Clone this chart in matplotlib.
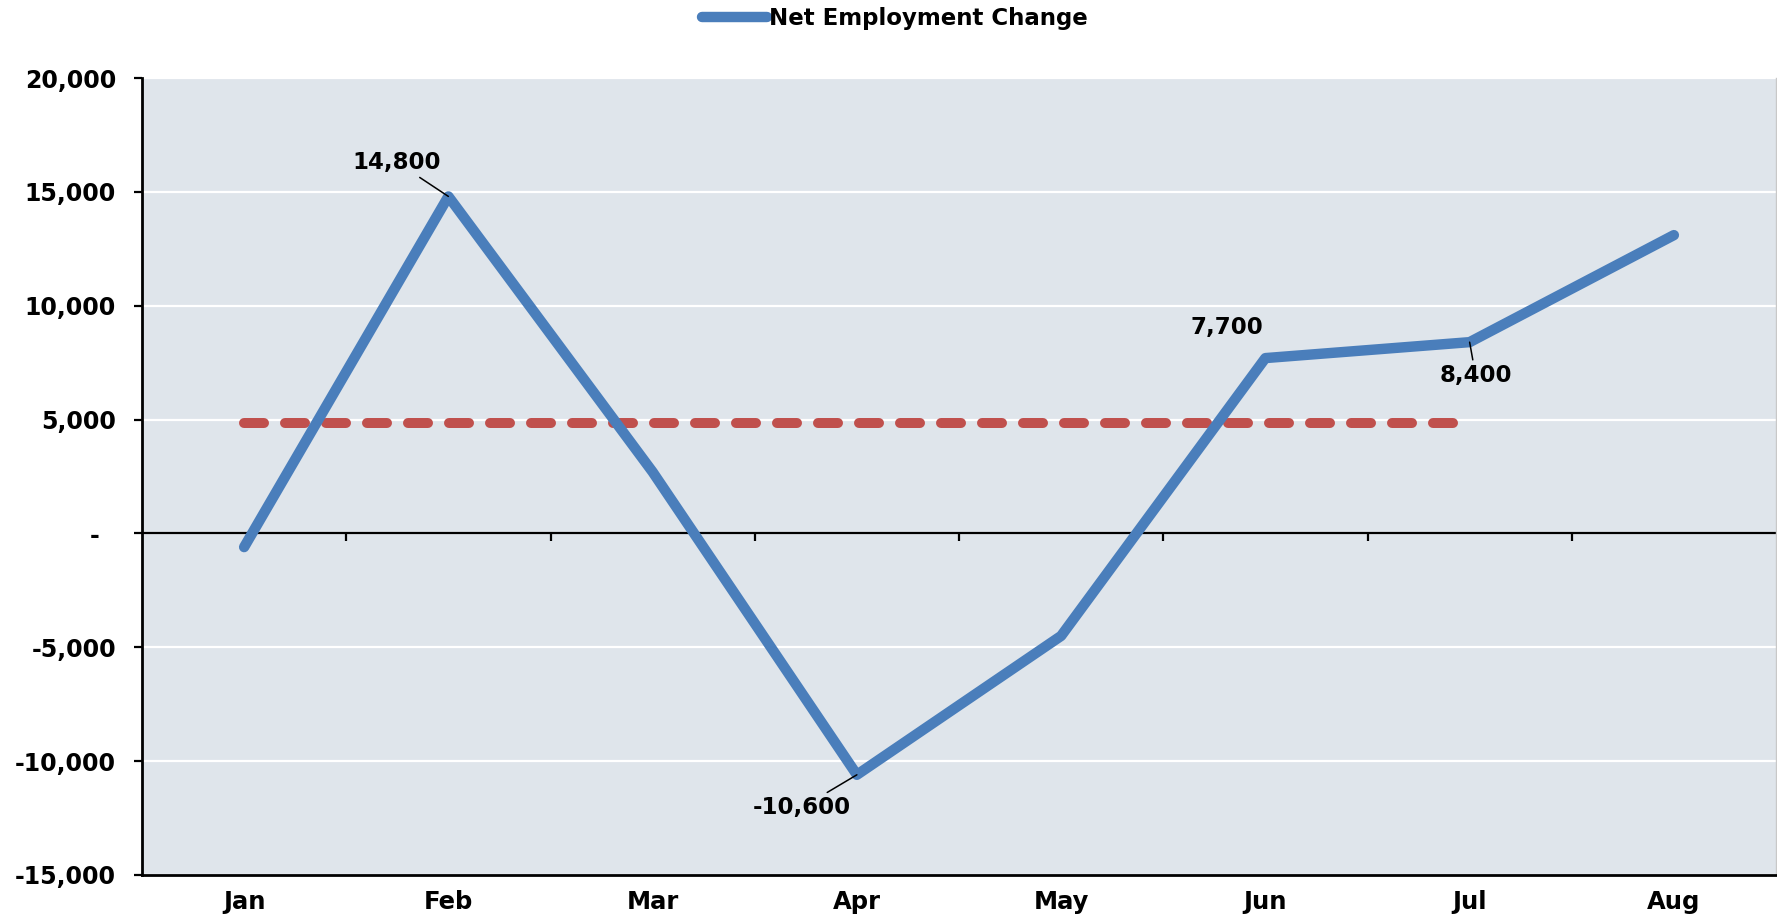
import matplotlib
matplotlib.use("Agg")
import matplotlib.pyplot as plt
from matplotlib.ticker import FuncFormatter
import numpy as np

# ---- data ----
months = ["Jan", "Feb", "Mar", "Apr", "May", "Jun", "Jul", "Aug"]
net_change = [-600, 14800, 2700, -10600, -4500, 7700, 8400, 13100]
series_name = "Net Employment Change"
benchmark = [4850, 4850, 4850, 4850, 4850, 4850, 4850]  # Jan..Jul
y_ticks = [-15000, -10000, -5000, 0, 5000, 10000, 15000, 20000]
labeled = {  # index: (dx pt, dy pt, leader)
    1: (-37, 24.5, True),
    3: (-39.5, -23.5, True),
    5: (-27.4, 22.3, False),
    6: (4.3, -24.0, True),
}

BLUE = "#4A7EBB"
RED = "#C0504D"
BG = "#DFE5EB"

W, H = 1777, 919
fig = plt.figure(figsize=(W / 100, H / 100), dpi=100)
ax = fig.add_axes([142 / W, 1 - 875 / H, (1776 - 142) / W, (875 - 78) / H])
ax.set_facecolor(BG)

x = np.arange(len(months))
ax.set_xlim(-0.5, len(months) - 0.5)
ax.set_ylim(y_ticks[0], y_ticks[-1])

# gridlines
ax.set_yticks(y_ticks)
ax.grid(axis="y", color="white", lw=1.6, zorder=1)
ax.set_axisbelow(True)

# zero axis line with category boundary ticks
ax.axhline(0, color="black", lw=1.6, zorder=2)
boundaries = np.arange(len(months) - 1) + 0.5
ax.plot(boundaries, np.zeros_like(boundaries), ls="", marker=3, ms=5.8,
        mew=1.6, color="black", zorder=2)

# benchmark dashed line
ax.plot(x[:len(benchmark)], benchmark, color=RED, lw=7.2,
        dashes=(2.0, 2.1), dash_capstyle="round", zorder=3)

# main series
line, = ax.plot(x, net_change, color=BLUE, lw=7.5, solid_capstyle="round",
                solid_joinstyle="round", zorder=4, label=series_name)

# data labels
for i, (dx, dy, leader) in labeled.items():
    kw = {}
    if leader:
        kw["arrowprops"] = dict(arrowstyle="-", color="black", lw=1.1,
                                shrinkA=1, shrinkB=0)
    ax.annotate(f"{net_change[i]:,}", xy=(x[i], net_change[i]),
                xytext=(dx, dy), textcoords="offset points",
                ha="center", va="center", fontsize=16.5, fontweight="bold",
                family="DejaVu Sans", color="black", zorder=5, **kw)

# spines
ax.spines["top"].set_visible(False)
ax.spines["right"].set_color("#C8C8C8")
ax.spines["right"].set_linewidth(1.0)
ax.spines["left"].set_linewidth(2.0)
ax.spines["bottom"].set_linewidth(2.0)

# y axis
def yfmt(v, pos):
    if abs(v) < 1e-9:
        return "-  "
    return f"{v:,.0f}"
ax.yaxis.set_major_formatter(FuncFormatter(yfmt))
ax.tick_params(axis="y", direction="out", length=5.8, width=1.6, pad=13,
               labelsize=17)
for t in ax.get_yticklabels():
    t.set_fontweight("bold")
    t.set_family("DejaVu Sans")

# x axis
ax.set_xticks(x)
ax.set_xticklabels(months)
ax.tick_params(axis="x", length=0, pad=11, labelsize=17.5)
for t in ax.get_xticklabels():
    t.set_fontweight("bold")
    t.set_family("DejaVu Sans")

# legend
fig.legend(handles=[line], labels=[series_name], loc="center",
           bbox_to_anchor=(895 / W, 1 - 19 / H), frameon=False,
           handlelength=2.8, handletextpad=0.1,
           prop={"family": "DejaVu Sans", "weight": "bold", "size": 16.5})

fig.savefig("out.png", dpi=100)
